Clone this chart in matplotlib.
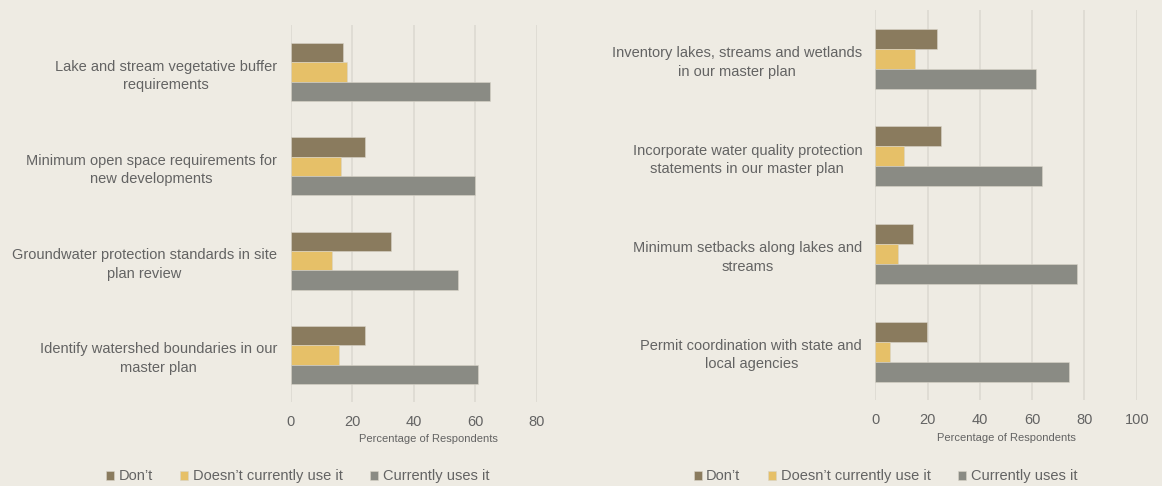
import matplotlib.pyplot as plt
import numpy as np

# survey answers, categories top to bottom
left_labels = [
    "Lake and stream vegetative buffer\nrequirements",
    "Minimum open space requirements for\nnew developments",
    "Groundwater protection standards in site\nplan review",
    "Identify watershed boundaries in our\nmaster plan",
]
left_dont = [17.0, 24.0, 32.4, 24.0]
left_not_used = [18.3, 16.4, 13.2, 15.7]
left_used = [64.8, 59.7, 54.4, 60.9]

right_labels = [
    "Inventory lakes, streams and wetlands\nin our master plan",
    "Incorporate water quality protection\nstatements in our master plan",
    "Minimum setbacks along lakes and\nstreams",
    "Permit coordination with state and\nlocal agencies",
]
right_dont = [23.6, 25.1, 14.3, 19.9]
right_not_used = [15.3, 10.9, 8.7, 5.7]
right_used = [61.4, 63.9, 77.3, 74.2]

series_names = ["Don\u2019t", "Doesn\u2019t currently use it", "Currently uses it"]
colors = ["#8a7b5e", "#e6c068", "#8a8b84"]

bg = "#eeebe3"
txt = "#636363"
grid_c = "#dcd9d1"

plt.rcParams["font.family"] = ["Liberation Sans", "DejaVu Sans"]

fig = plt.figure(figsize=(11.62, 4.86), dpi=100)
fig.patch.set_facecolor(bg)


def draw_panel(rect, labels, dont, not_used, used, xmax, ticks, label_x, leg_x, pad):
    ax = fig.add_axes(rect)
    ax.set_facecolor(bg)
    y = np.arange(len(labels))
    h = 0.205
    for vals, off, c, name in zip([dont, not_used, used], [-h, 0, h], colors, series_names):
        ax.barh(y + off, vals, height=h, color=c, label=name,
                edgecolor="#d8d4c8", linewidth=0.4)
    ax.set_ylim(len(labels) - 0.5, -0.5)
    ax.set_yticks(y)
    ax.set_yticklabels(labels, fontsize=10.5, color=txt, ha="right",
                       multialignment="center", linespacing=1.4)
    ax.tick_params(axis="y", length=0, pad=pad)
    ax.set_xlim(0, xmax)
    ax.set_xticks(ticks)
    ax.set_xticklabels([str(t) for t in ticks], fontsize=10.5, color=txt)
    ax.tick_params(axis="x", length=0, pad=9)
    ax.grid(axis="x", color=grid_c, linewidth=1.2)
    ax.set_axisbelow(True)
    for s in ax.spines.values():
        s.set_visible(False)
    ax.set_xlabel("Percentage of Respondents", fontsize=8, color=txt)
    ax.xaxis.set_label_coords(label_x, -0.085)
    ax.legend(loc="center", bbox_to_anchor=(leg_x, 0.02),
              bbox_transform=fig.transFigure, ncol=3, frameon=False,
              fontsize=10.5, handlelength=0.55, handleheight=0.55,
              handletextpad=0.3, columnspacing=1.9, labelcolor=txt)
    return ax


ax1 = draw_panel([0.2504, 0.1728, 0.2117, 0.7757], left_labels,
                 left_dont, left_not_used, left_used, 80, [0, 20, 40, 60, 80],
                 0.557, 0.256, 10)
ax2 = draw_panel([0.7533, 0.1763, 0.2250, 0.8031], right_labels,
                 right_dont, right_not_used, right_used, 100,
                 [0, 20, 40, 60, 80, 100], 0.5, 0.762, 9.5)

fig.savefig("out.png", dpi=100, facecolor=bg)
